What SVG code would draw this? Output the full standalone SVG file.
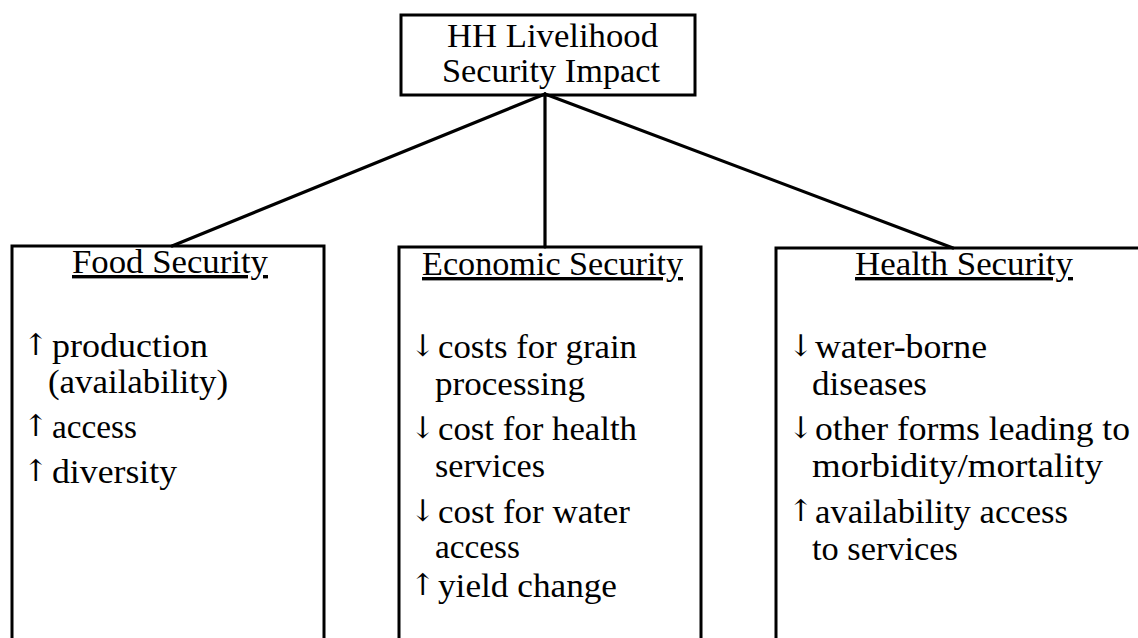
<svg xmlns="http://www.w3.org/2000/svg" width="1138" height="638" viewBox="0 0 1138 638">
<style>
.box{fill:#fff;stroke:#000;stroke-width:3}
.t{font-family:"Liberation Serif","Times New Roman",serif;font-size:34px;fill:#000}
.a{font-family:"DejaVu Serif",serif;font-size:30px;fill:#000}
.u{text-decoration:underline}
.c line{stroke:#000;stroke-width:3.2;stroke-linecap:round}
</style>
<rect width="1138" height="638" fill="#fff"/>
<g id="n-top">
<rect class="box" x="401" y="15" width="294" height="80"/>
<text class="t" x="447" y="47" textLength="211" lengthAdjust="spacingAndGlyphs">HH Livelihood</text>
<text class="t" x="442" y="82" textLength="218" lengthAdjust="spacingAndGlyphs">Security Impact</text>
</g>
<g id="n-food">
<rect class="box" x="12" y="246" width="312" height="410"/>
<text class="t u" x="72" y="273" textLength="196" lengthAdjust="spacingAndGlyphs">Food Security</text>
<text class="a" x="23" y="355">↑</text>
<text class="t" x="52" y="357" textLength="156" lengthAdjust="spacingAndGlyphs">production</text>
<text class="t" x="48" y="393" textLength="180" lengthAdjust="spacingAndGlyphs">(availability)</text>
<text class="a" x="23" y="436">↑</text>
<text class="t" x="52" y="438" textLength="85" lengthAdjust="spacingAndGlyphs">access</text>
<text class="a" x="23" y="481">↑</text>
<text class="t" x="52" y="483" textLength="125" lengthAdjust="spacingAndGlyphs">diversity</text>
</g>
<g id="n-econ">
<rect class="box" x="399" y="247" width="302" height="410"/>
<text class="t u" x="422" y="275" textLength="261" lengthAdjust="spacingAndGlyphs">Economic Security</text>
<text class="a" x="410" y="356">↓</text>
<text class="t" x="438" y="358" textLength="199" lengthAdjust="spacingAndGlyphs">costs for grain</text>
<text class="t" x="435" y="395" textLength="150" lengthAdjust="spacingAndGlyphs">processing</text>
<text class="a" x="410" y="438">↓</text>
<text class="t" x="438" y="440" textLength="199" lengthAdjust="spacingAndGlyphs">cost for health</text>
<text class="t" x="435" y="477" textLength="110" lengthAdjust="spacingAndGlyphs">services</text>
<text class="a" x="410" y="521">↓</text>
<text class="t" x="438" y="523" textLength="192" lengthAdjust="spacingAndGlyphs">cost for water</text>
<text class="t" x="435" y="558" textLength="85" lengthAdjust="spacingAndGlyphs">access</text>
<text class="a" x="410" y="595">↑</text>
<text class="t" x="438" y="597" textLength="179" lengthAdjust="spacingAndGlyphs">yield change</text>
</g>
<g id="n-health">
<rect class="box" x="776" y="248" width="380" height="410"/>
<text class="t u" x="855" y="275" textLength="218" lengthAdjust="spacingAndGlyphs">Health Security</text>
<text class="a" x="788" y="356">↓</text>
<text class="t" x="815" y="358" textLength="172" lengthAdjust="spacingAndGlyphs">water-borne</text>
<text class="t" x="812" y="395" textLength="115" lengthAdjust="spacingAndGlyphs">diseases</text>
<text class="a" x="788" y="438">↓</text>
<text class="t" x="815" y="440" textLength="315" lengthAdjust="spacingAndGlyphs">other forms leading to</text>
<text class="t" x="812" y="477" textLength="291" lengthAdjust="spacingAndGlyphs">morbidity/mortality</text>
<text class="a" x="788" y="521">↑</text>
<text class="t" x="815" y="523" textLength="253" lengthAdjust="spacingAndGlyphs">availability access</text>
<text class="t" x="812" y="560" textLength="146" lengthAdjust="spacingAndGlyphs">to services</text>
</g>
<g id="connectors" class="c">
<line x1="545" y1="94" x2="172" y2="246"/>
<line x1="545" y1="94" x2="545" y2="247"/>
<line x1="545" y1="94" x2="953" y2="248"/>
</g>
</svg>
